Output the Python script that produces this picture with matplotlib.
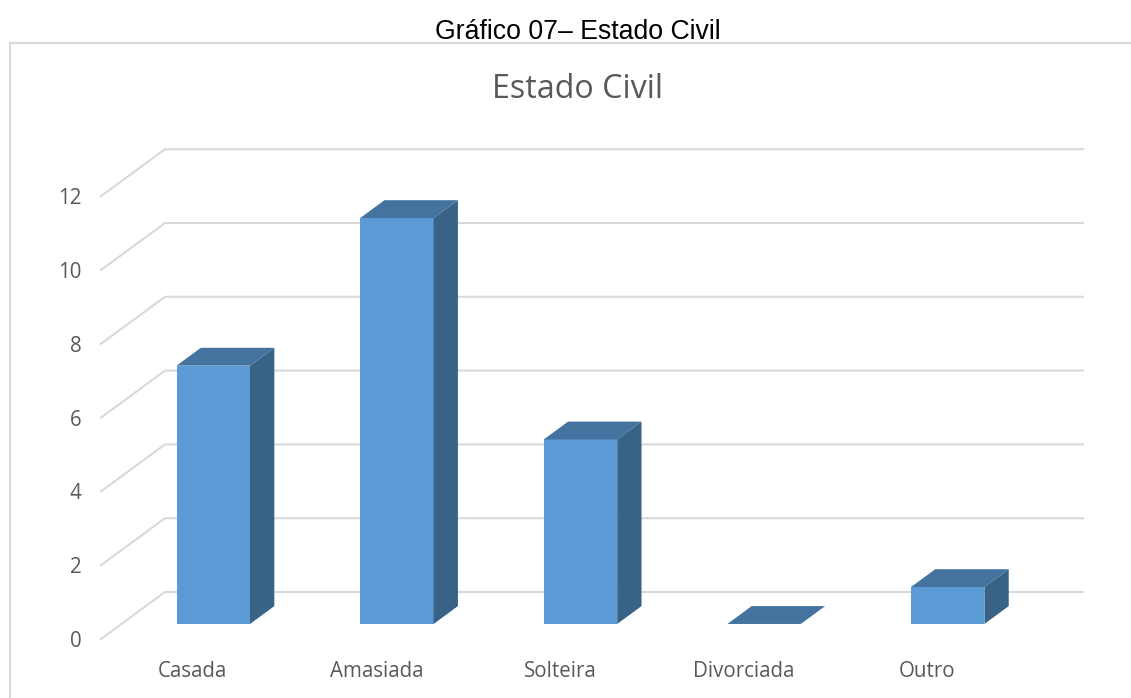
import matplotlib.pyplot as plt
from matplotlib.patches import Polygon
from matplotlib.lines import Line2D

# dados do gráfico
categorias = ['Casada', 'Amasiada', 'Solteira', 'Divorciada', 'Outro']
valores = [7, 11, 5, 0, 1]
ticks_y = [0, 2, 4, 6, 8, 10, 12]

W, H = 1131, 698
fig = plt.figure(figsize=(W / 100, H / 100), dpi=100)

# escala em pixels por unidade (categoria / valor) e deslocamento da profundidade
px_cat = 183.6
px_val = 36.9
dx = 64 / px_cat
dy = 47 / px_val
ymax = 13.3

ax = fig.add_axes([101 / W, (H - 639) / H, (5 + dx) * px_cat / W, ymax * px_val / H])
ax.set_xlim(0, 5 + dx)
ax.set_ylim(0, ymax)
for s in ax.spines.values():
    s.set_visible(False)


def proj(x, v, z):
    # projecção oblíqua simples (efeito 3D do Excel)
    return (x + z * dx, v + z * dy)


# linhas de grade: diagonal na parede lateral + horizontal na parede de fundo
for t in ticks_y:
    ax.plot([0, dx, len(categorias) + dx], [t, t + dy, t + dy],
            color='#d9d9d9', lw=1.5, zorder=1, clip_on=False)

cor_frente = '#5b9bd5'
cor_topo = '#44739f'
cor_lado = '#386387'
z0, z1 = 0.32, 0.70
larg = 0.4

for i, v in enumerate(valores):
    x0 = i + 0.5 - larg / 2
    x1 = i + 0.5 + larg / 2
    frente = [proj(x0, 0, z0), proj(x1, 0, z0), proj(x1, v, z0), proj(x0, v, z0)]
    lado = [proj(x1, 0, z0), proj(x1, 0, z1), proj(x1, v, z1), proj(x1, v, z0)]
    topo = [proj(x0, v, z0), proj(x1, v, z0), proj(x1, v, z1), proj(x0, v, z1)]
    if v > 0:
        ax.add_patch(Polygon(frente, closed=True, fc=cor_frente, ec='none', zorder=3, clip_on=False))
        ax.add_patch(Polygon(lado, closed=True, fc=cor_lado, ec='none', zorder=3, clip_on=False))
    ax.add_patch(Polygon(topo, closed=True, fc=cor_topo, ec='none', zorder=3, clip_on=False))

fonte = 'Open Sans'
ax.set_yticks(ticks_y)
ax.set_yticklabels([str(t) for t in ticks_y], fontsize=14.8, color='#595959', family=fonte)
ax.set_xticks([i + 0.5 for i in range(len(categorias))])
ax.set_xticklabels(categorias, fontsize=14.8, color='#595959', family=fonte)
ax.tick_params(axis='y', length=0, pad=14)
ax.tick_params(axis='x', length=0, pad=15.5)

# títulos
fig.text(577 / W, 1 - 90 / H, 'Estado Civil', ha='center', va='center',
         fontsize=23.2, color='#595959', family=fonte)
fig.text(578 / W, 1 - 32 / H, 'Gráfico 07– Estado Civil', ha='center', va='center',
         fontsize=19.2, color='black', family='Liberation Sans')

# moldura da área do gráfico
fig.add_artist(Line2D([10 / W, 10 / W], [0, 1 - 43 / H], color='#d9d9d9', lw=1.5))
fig.add_artist(Line2D([10 / W, 1], [1 - 43 / H, 1 - 43 / H], color='#d9d9d9', lw=1.5))

fig.savefig('out.png', dpi=100)
